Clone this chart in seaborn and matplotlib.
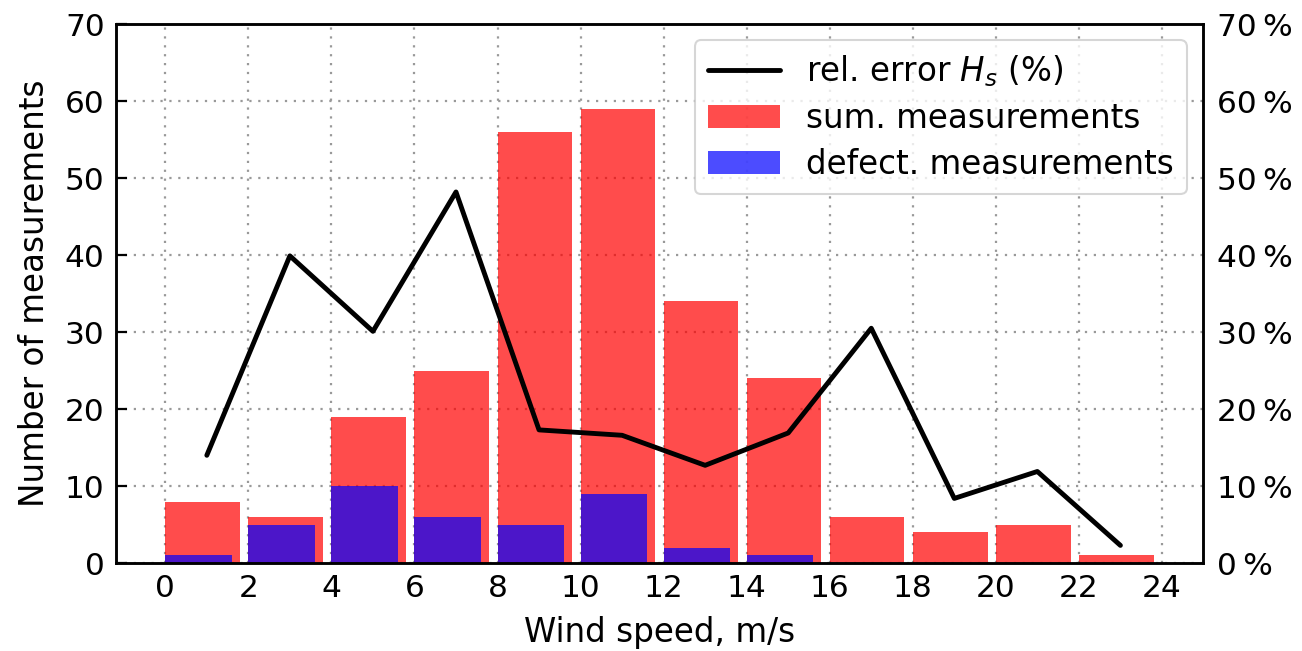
import numpy as np
import pandas as pd
import matplotlib
matplotlib.use("Agg")
import matplotlib.pyplot as plt
import seaborn as sns

# Wind-speed bins (left edges, m/s) and their centres
bin_left = [0, 2, 4, 6, 8, 10, 12, 14, 16, 18, 20, 22]
bin_center = [1, 3, 5, 7, 9, 11, 13, 15, 17, 19, 21, 23]

# Counts per bin
sum_measurements = [8, 6, 19, 25, 56, 59, 34, 24, 6, 4, 5, 1]
defect_measurements = [1, 5, 10, 6, 5, 9, 2, 1, 0, 0, 0, 0]

# Relative error of significant wave height per bin (%)
rel_error = [14.0, 39.9, 30.1, 48.2, 17.3, 16.6, 12.7, 16.9, 30.5, 8.4, 11.9, 2.3]

x_ticks = list(range(0, 25, 2))
y_ticks = list(range(0, 71, 10))

sns.set_style("white")
plt.rcParams["font.family"] = ["DejaVu Sans"]
plt.rcParams["text.color"] = "black"
plt.rcParams["axes.labelcolor"] = "black"
FS = 22.5
LFS = 23.5

fig = plt.figure(figsize=(13.02, 6.51), dpi=100)
ax = fig.add_axes([0.089, 0.135, 0.835, 0.828])
ax2 = ax.twinx()

df = pd.DataFrame({"speed": bin_center, "err": rel_error})

ax.bar(bin_left, sum_measurements, width=1.8, align="edge", linewidth=0,
       color="red", alpha=0.7, label="sum. measurements", zorder=2)
ax.bar(bin_left, defect_measurements, width=1.6, align="edge", linewidth=0,
       color="blue", alpha=0.7, label="defect. measurements", zorder=2)

sns.lineplot(data=df, x="speed", y="err", ax=ax2, color="black",
             linewidth=3.5, label=r"rel. error $H_s$ (%)", legend=False)

ax.set_ylim(0, 70)
ax2.set_ylim(0, 70)
ax.set_xticks(x_ticks)
ax.set_yticks(y_ticks)
ax2.set_yticks(y_ticks)
ax2.set_yticklabels([f"{v}\u2009%" for v in y_ticks])

ax.grid(True, linestyle=(0, (1, 3)), color="#999999", linewidth=1.6, zorder=0)
ax.set_axisbelow(True)
ax2.grid(False)

ax.set_xlabel("Wind speed, m/s", fontsize=LFS, labelpad=9, color="black")
ax.set_ylabel("Number of measurements", fontsize=LFS, labelpad=10, color="black")
ax2.set_ylabel("")

ax.tick_params(axis="both", direction="in", length=8, width=1.6,
               labelsize=FS, pad=8, colors="black")
ax2.tick_params(axis="y", length=0, labelsize=FS, pad=10, colors="black")

for a in (ax, ax2):
    for s in a.spines.values():
        s.set_color("black")
        s.set_linewidth(1.8)

# Combined legend: line first, then bars
h1, l1 = ax2.get_legend_handles_labels()
h2, l2 = ax.get_legend_handles_labels()
leg = ax2.legend(h1 + h2, l1 + l2, loc="upper right", fontsize=LFS,
                 frameon=True, fancybox=True, framealpha=0.8,
                 edgecolor="#cccccc", borderpad=0.4, handlelength=2.2,
                 labelspacing=0.4, borderaxespad=0.5)
leg.get_frame().set_linewidth(1.5)

fig.savefig("out.png", dpi=100)
